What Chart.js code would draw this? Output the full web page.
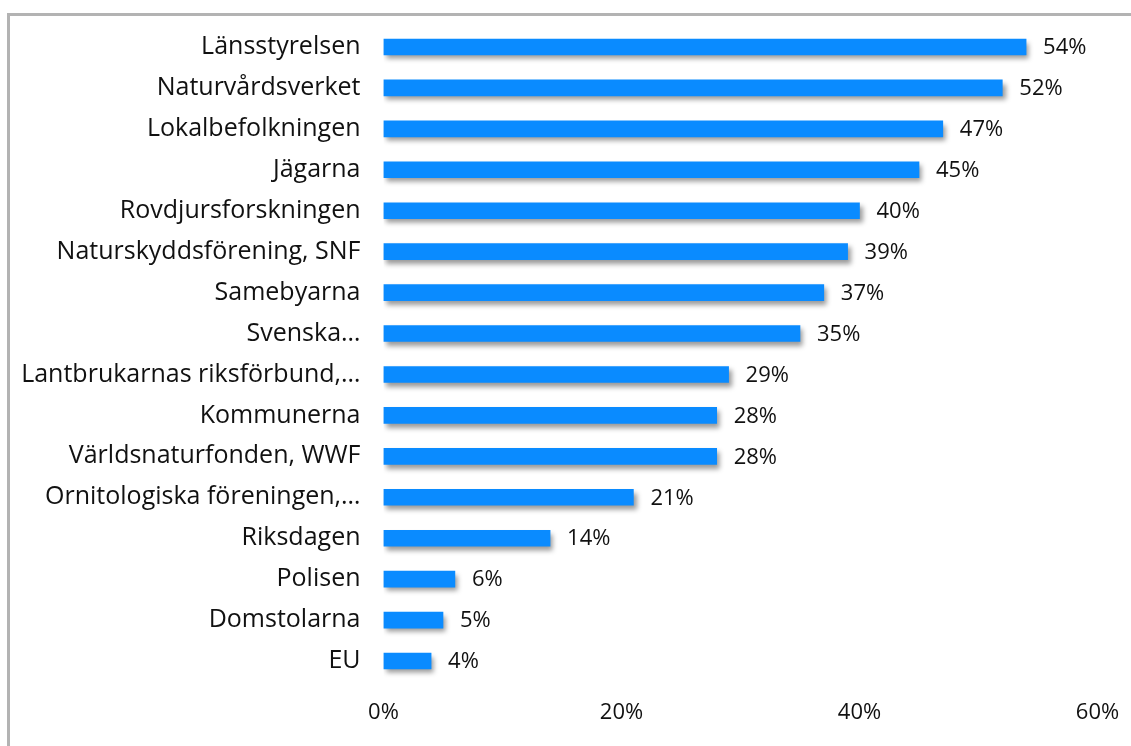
<!DOCTYPE html>
<html>
<head>
<meta charset="utf-8">
<script src="https://cdn.jsdelivr.net/npm/chart.js@4/dist/chart.umd.min.js"></script>
<style>
  html, body { margin: 0; padding: 0; background: #fff; width: 1131px; height: 746px; overflow: hidden; }
  #frame { position: absolute; left: 7px; top: 13px; width: 1200px; height: 800px;
           border-left: 3px solid #b3b3b3; border-top: 3px solid #b3b3b3; }
  #wrap { position: absolute; left: 0; top: 0; width: 1131px; height: 746px; }
</style>
</head>
<body>
<div id="frame"></div>
<div id="wrap"><canvas id="c" width="1131" height="746"></canvas></div>
<script>
const categories = [
  "Länsstyrelsen",
  "Naturvårdsverket",
  "Lokalbefolkningen",
  "Jägarna",
  "Rovdjursforskningen",
  "Naturskyddsförening, SNF",
  "Samebyarna",
  "Svenska…",
  "Lantbrukarnas riksförbund,…",
  "Kommunerna",
  "Världsnaturfonden, WWF",
  "Ornitologiska föreningen,…",
  "Riksdagen",
  "Polisen",
  "Domstolarna",
  "EU"
];
const values = [54, 52, 47, 45, 40, 39, 37, 35, 29, 28, 28, 21, 14, 6, 5, 4];
const xTicks = [0, 20, 40, 60];

const FONT = "'Open Sans', sans-serif";
const FSIZE_CAT = 25;
const FSIZE_NUM = 22;

const shadowPlugin = {
  id: 'barShadow',
  beforeDatasetsDraw(chart) {
    const ctx = chart.ctx;
    ctx.save();
    ctx.shadowColor = 'rgba(0,0,0,0.4)';
    ctx.shadowBlur = 5;
    ctx.shadowOffsetX = 3;
    ctx.shadowOffsetY = 4;
  },
  afterDatasetsDraw(chart) {
    chart.ctx.restore();
  }
};

const labelPlugin = {
  id: 'valueLabels',
  afterDraw(chart) {
    const ctx = chart.ctx;
    const meta = chart.getDatasetMeta(0);
    ctx.save();
    ctx.font = FSIZE_NUM + "px " + FONT;
    ctx.fillStyle = '#111';
    ctx.textAlign = 'left';
    ctx.textBaseline = 'middle';
    meta.data.forEach((bar, i) => {
      ctx.fillText(values[i] + '%', bar.x + 17, bar.y + 1);
    });
    ctx.restore();
  }
};

function noPad(scale) {
  scale.paddingTop = 0; scale.paddingBottom = 0;
  scale.paddingLeft = 0; scale.paddingRight = 0;
}

new Chart(document.getElementById('c'), {
  type: 'bar',
  data: {
    labels: categories,
    datasets: [{
      data: values,
      backgroundColor: '#0A8BFF',
      borderWidth: 0,
      barThickness: 16
    }]
  },
  options: {
    indexAxis: 'y',
    responsive: false,
    animation: false,
    devicePixelRatio: 1,
    layout: { padding: { top: 26.5, right: 33.5, bottom: 0, left: 0 } },
    plugins: { legend: { display: false }, tooltip: { enabled: false } },
    scales: {
      x: {
        min: 0, max: 60,
        afterBuildTicks(scale) { scale.ticks = xTicks.map(v => ({ value: v })); },
        afterFit(scale) { noPad(scale); scale.height = 64.5; },
        grid: { display: false, drawTicks: false },
        border: { display: false },
        ticks: {
          padding: 18,
          color: '#111',
          font: { family: FONT, size: FSIZE_NUM },
          maxRotation: 0,
          callback: v => v + '%'
        }
      },
      y: {
        afterFit(scale) { noPad(scale); scale.width = 383.5; },
        grid: { display: false, drawTicks: false },
        border: { display: false },
        ticks: {
          padding: 23,
          color: '#111',
          font: { family: FONT, size: FSIZE_CAT },
          autoSkip: false
        }
      }
    }
  },
  plugins: [shadowPlugin, labelPlugin]
});
</script>
</body>
</html>
